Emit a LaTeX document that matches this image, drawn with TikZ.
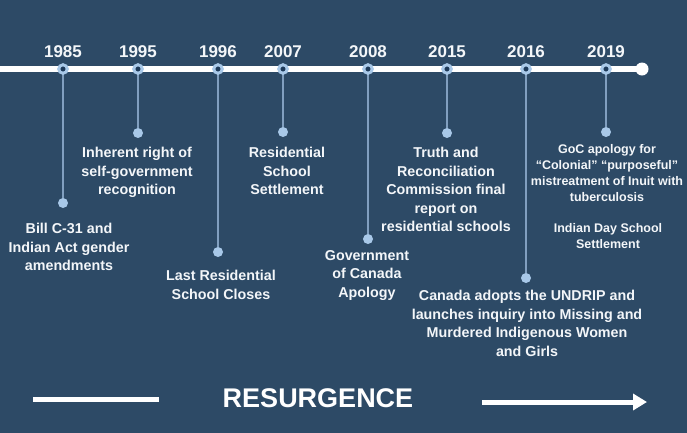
\documentclass[tikz,border=0pt]{standalone}
\usepackage{fontspec}
\setmainfont{Liberation Sans}
\usetikzlibrary{arrows.meta, positioning}
\definecolor{bgBlue}{HTML}{2D4A66}
\definecolor{ringBlue}{HTML}{A8C8E8}
\definecolor{coreBlue}{HTML}{1D3A5A}
\definecolor{stemBlue}{HTML}{819FBF}
\definecolor{textWhite}{HTML}{F3F6F9}

\begin{document}
\begin{tikzpicture}[x=1pt, y=-1pt,
    yearmark/.style={circle, inner sep=0pt, minimum size=8.5pt, fill=coreBlue, draw=ringBlue, line width=3pt},
    stemdot/.style={circle, inner sep=0pt, minimum size=10pt, fill=ringBlue},
    endcap/.style={circle, inner sep=0pt, minimum size=13pt, fill=white},
    stem/.style={draw=stemBlue, line width=1.5pt},
    yearlabel/.style={text=textWhite, font=\bfseries\fontsize{17}{20}\selectfont, inner sep=0pt},
    event/.style={text=textWhite, font=\bfseries\fontsize{14.3}{18.5}\selectfont, align=center, anchor=north, inner sep=0pt},
    smallevent/.style={event, font=\bfseries\fontsize{12.5}{16}\selectfont}]
    % background
    \useasboundingbox (0,0) rectangle (687,432);
    \fill[bgBlue] (-5,-5) rectangle (692,437);

    % timeline
    \coordinate (tlstart) at (-5,69);
    \coordinate (tlend) at (642,69);
    \draw[white, line width=5.5pt] (tlstart) -- (tlend);
    \node[endcap] (tlcap) at (tlend) {};

    % years, stems and dots
    \foreach \yr/\xx/\dy in {1985/63/203, 1995/138/133, 1996/218/252, 2007/283/132,
                             2008/368/239, 2015/447/133, 2016/526/278, 2019/606/132} {
        \node[stemdot] (d\yr) at (\xx,\dy) {};
        \draw[stem] (\xx,69) -- (d\yr);
        \node[yearmark] (m\yr) at (\xx,69) {};
        \node[yearlabel] (y\yr) at (\xx,52) {\yr};
    }

    % events
    \node[event] (e1985) at (69,223) {Bill C-31 and\\Indian Act gender\\amendments};
    \node[event] (e1995) at (137,147) {Inherent right of\\self-government\\recognition};
    \node[event] (e1996) at (221,270) {Last Residential\\School Closes};
    \node[event] (e2007) at (287,147) {Residential\\School\\Settlement};
    \node[event] (e2008) at (367,250) {Government\\of Canada\\Apology};
    \node[event] (e2015) at (446,147) {Truth and\\Reconciliation\\Commission final\\report on\\residential schools};
    \node[event] (e2016) at (527,290) {Canada adopts the UNDRIP and\\launches inquiry into Missing and\\Murdered Indigenous Women\\and Girls};
    \node[smallevent] (e2019) at (607,144) {GoC apology for\\``Colonial'' ``purposeful''\\mistreatment of Inuit with\\tuberculosis};
    \node[smallevent] (e2019b) at (608,223) {Indian Day School\\Settlement};

    % resurgence
    \coordinate (rsl1) at (33,399);
    \coordinate (rsl2) at (159,399);
    \coordinate (rsr1) at (482,402);
    \coordinate (rsr2) at (647,402);
    \draw[white, line width=5pt] (rsl1) -- (rsl2);
    \node[text=white, font=\bfseries\fontsize{27}{30}\selectfont, inner sep=0pt] (resurgence) at (318,398) {RESURGENCE};
    \draw[white, line width=5pt, -{Triangle[length=14pt, width=16pt]}] (rsr1) -- (rsr2);
\end{tikzpicture}
\end{document}
